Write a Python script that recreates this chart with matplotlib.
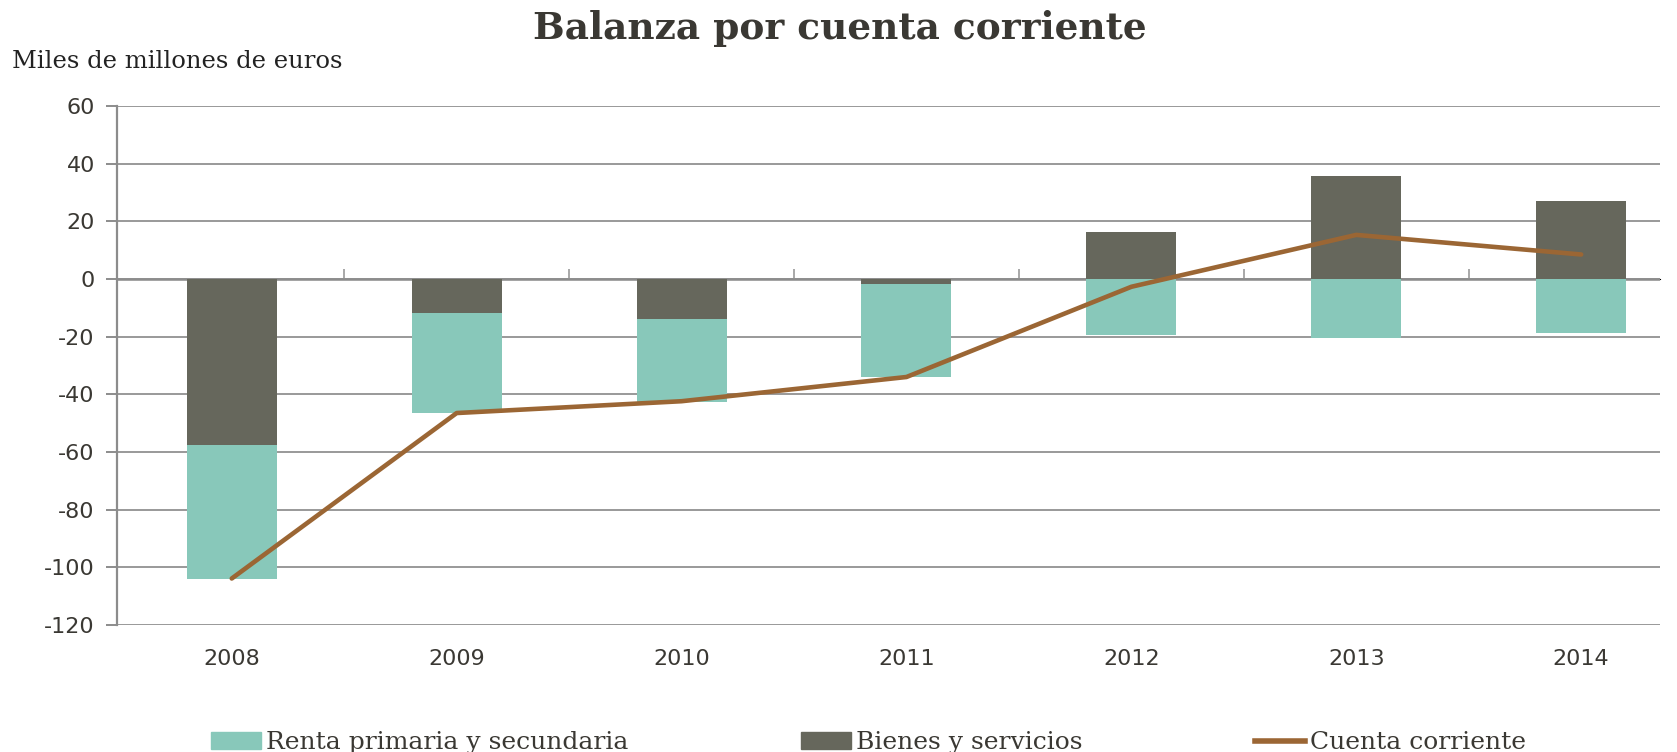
import numpy as np
import matplotlib.pyplot as plt
from matplotlib.patches import Patch
from matplotlib.lines import Line2D

years = ["2008", "2009", "2010", "2011", "2012", "2013", "2014"]
bienes = [-57.6, -11.9, -14.0, -1.9, 16.3, 35.7, 27.1]
renta = [-46.3, -34.6, -28.7, -32.2, -19.6, -20.6, -18.9]
cuenta = [-103.9, -46.5, -42.4, -34.0, -2.7, 15.3, 8.5]

c_renta = "#88C8BA"
c_bienes = "#66675C"
c_line = "#9B6634"
txt = "#3A3833"

plt.rcParams["axes.unicode_minus"] = False

def plot_balanza():
    fig = plt.figure(figsize=(16.77, 7.52), dpi=100)
    ax = fig.add_axes([0.0698, 0.169, 0.92, 0.690])

    x = np.arange(len(years))
    b = np.array(bienes)
    r = np.array(renta)
    # renta sits under bienes when bienes is negative, under zero otherwise
    base_r = np.where(b < 0, b, 0)
    ax.bar(x, b, width=0.4, color=c_bienes, zorder=2)
    ax.bar(x, r, width=0.4, bottom=base_r, color=c_renta, zorder=2)
    ax.plot(x, cuenta, color=c_line, lw=3.3, zorder=3, solid_capstyle="round")

    ax.set_xlim(-0.51, 6.35)
    ax.set_ylim(-120, 60)
    ax.set_yticks(range(-120, 61, 20))
    ax.yaxis.grid(True, color="#999999", lw=1.4, zorder=0)
    ax.set_axisbelow(True)
    for s in ["top", "right", "bottom"]:
        ax.spines[s].set_visible(False)
    ax.spines["left"].set_color("#8c8c8c")
    ax.spines["left"].set_linewidth(1.6)
    ax.tick_params(axis="y", length=8, width=1.4, color="#8c8c8c",
                   labelsize=16, labelcolor=txt, pad=8)
    ax.set_xticks(x)
    ax.set_xticklabels(years)
    ax.tick_params(axis="x", length=0, labelsize=16, labelcolor=txt, pad=17)

    # category boundary ticks on the zero line
    zero = ax.secondary_xaxis(2 / 3)
    zero.set_xticks(np.arange(0.5, len(years) - 1, 1))
    zero.set_xticklabels([])
    zero.spines["bottom"].set_visible(False)
    zero.tick_params(length=7, width=1.2, color="#999999", direction="out")
    ax.axhline(0, color="#8c8c8c", lw=1.8, zorder=1)

    fig.text(0.501, 0.962, "Balanza por cuenta corriente", ha="center",
             va="center", family="DejaVu Serif", weight="bold", fontsize=27,
             color=txt)
    fig.text(0.007, 0.918, "Miles de millones de euros", ha="left",
             va="center", family="DejaVu Serif", fontsize=17.5, color="#222222")

    handles = [Patch(color=c_renta), Patch(color=c_bienes),
               Line2D([], [], color=c_line, lw=4)]
    labels = ["Renta primaria y secundaria", "Bienes y servicios",
              "Cuenta corriente"]
    fig.legend(handles, labels, loc="center", bbox_to_anchor=(0.518, 0.012),
               ncol=3, frameon=False, columnspacing=6.9, handlelength=2.0,
               handleheight=0.7, handletextpad=0.2,
               prop={"family": "DejaVu Serif", "size": 18},
               labelcolor=txt)

    fig.savefig("out.png", dpi=100)

if __name__ == "__main__":
    plot_balanza()
